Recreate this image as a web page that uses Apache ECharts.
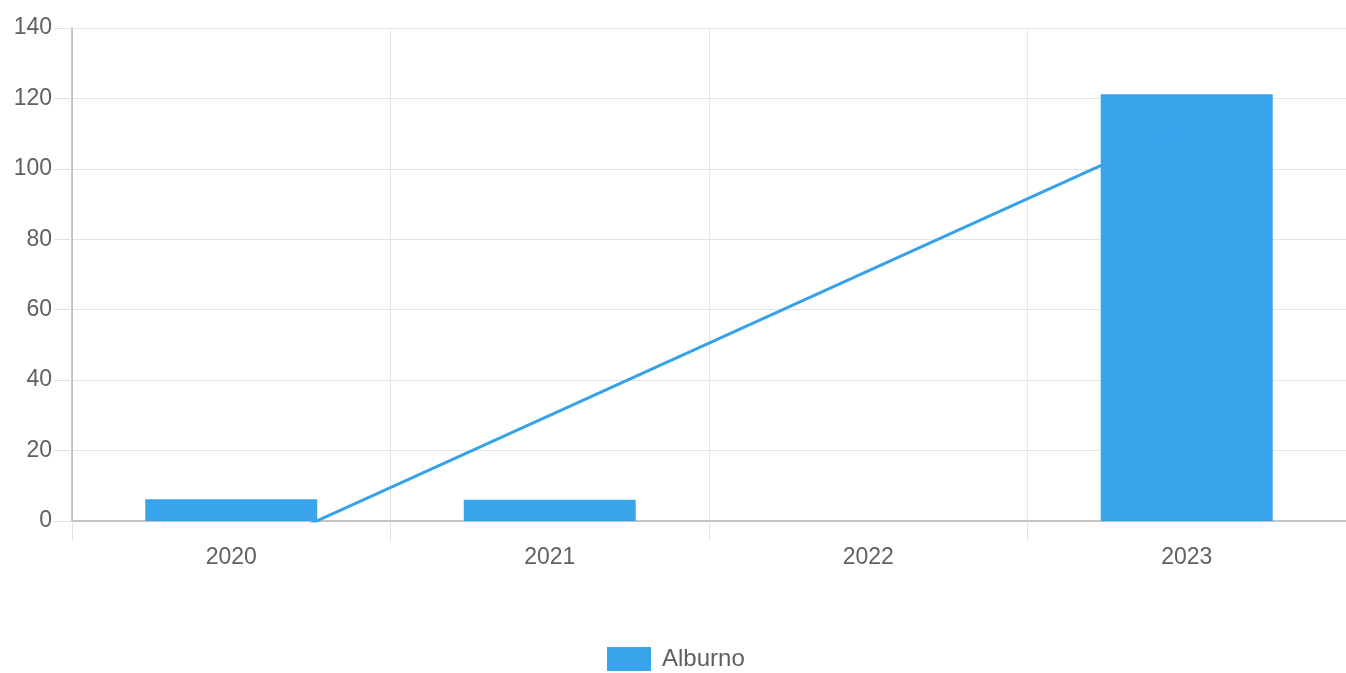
<!DOCTYPE html>
<html>
<head>
<meta charset="utf-8">
<script src="https://cdn.jsdelivr.net/npm/echarts@6/dist/echarts.min.js"></script>
<style>html,body{margin:0;padding:0;background:#fff;}#c{width:1346px;height:673px;}</style>
</head>
<body>
<div id="c"></div>
<script>
var categories = ['2020', '2021', '2022', '2023'];
var barValues = [6.2, 6, 0, 121.2];
var trendValues = [-11, 30, 71, 112];
var yTicks = { min: 0, max: 140, interval: 20 };
var seriesName = 'Alburno';

var chart = echarts.init(document.getElementById('c'));
chart.setOption({
  animation: false,
  textStyle: { fontFamily: 'Liberation Sans, Arial, sans-serif' },
  legend: {
    data: [seriesName],
    top: 647,
    left: 607,
    itemWidth: 44,
    itemHeight: 24,
    padding: 0,
    icon: 'rect',
    textStyle: { fontSize: 24, color: '#606060', padding: [0, 0, 0, 6] }
  },
  grid: { left: 72, width: 1282, top: 28, height: 493 },
  xAxis: {
    type: 'category',
    data: categories,
    boundaryGap: true,
    axisLine: { show: true, lineStyle: { color: '#b5b5b5', width: 1.5 } },
    axisTick: { show: true, length: 20, lineStyle: { color: '#e0e0e0' } },
    axisLabel: { fontSize: 23, color: '#606060', margin: 25 },
    splitLine: { show: true, lineStyle: { color: '#e5e5e5' } }
  },
  yAxis: {
    type: 'value',
    min: yTicks.min,
    max: yTicks.max,
    interval: yTicks.interval,
    axisLine: { show: true, lineStyle: { color: '#b5b5b5', width: 1.5 } },
    axisTick: { show: true, length: 18, lineStyle: { color: '#e0e0e0' } },
    axisLabel: { fontSize: 23, color: '#606060', margin: 20 },
    splitLine: { show: true, lineStyle: { color: '#e5e5e5' } }
  },
  series: [
    {
      name: 'trend',
      type: 'line',
      data: trendValues,
      symbol: 'none',
      clip: true,
      z: 1,
      lineStyle: { color: '#36A2EB', width: 3 },
      itemStyle: { color: '#36A2EB' }
    },
    {
      name: seriesName,
      type: 'bar',
      data: barValues,
      barWidth: '54%',
      z: 3,
      itemStyle: { color: 'rgba(54,162,235,0.98)' }
    }
  ]
});
</script>
</body>
</html>
